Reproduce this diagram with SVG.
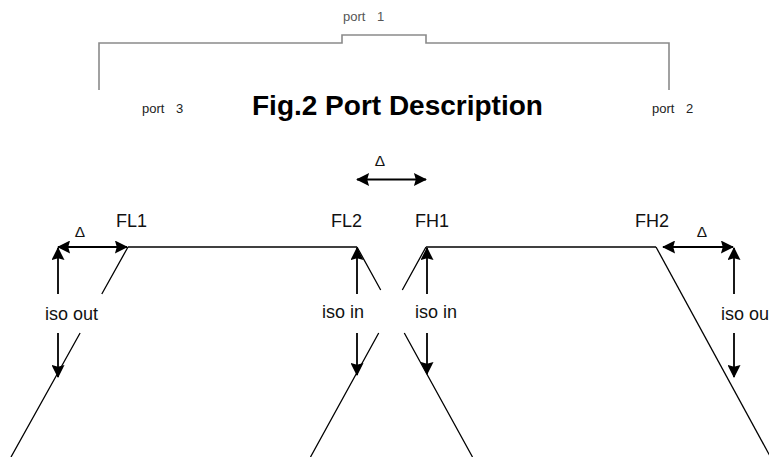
<svg xmlns="http://www.w3.org/2000/svg" width="769" height="457" viewBox="0 0 769 457">
<style>
.lbl{font-family:"Liberation Sans",Arial,sans-serif;font-size:18px;fill:#111}
.port{font-family:"Liberation Sans",Arial,sans-serif;font-size:13px;fill:#222;word-spacing:8px}
.delta{font-family:"Liberation Sans",Arial,sans-serif;font-size:15.5px;fill:#111;text-anchor:middle}
.title{font-family:"Liberation Sans",Arial,sans-serif;font-size:28px;font-weight:bold;fill:#000}
.ln{stroke:#000;stroke-width:1.5;fill:none}
.sl{stroke:#000;stroke-width:1.3;fill:none}
.ar{stroke:#000;stroke-width:1.8;fill:none;marker-end:url(#ah)}
.dar{stroke:#000;stroke-width:1.8;fill:none;marker-end:url(#ah);marker-start:url(#ah)}
.br{stroke:#8a8a8a;stroke-width:1.6;fill:none}
</style>
<defs>
<marker id="ah" viewBox="0 0 14 14" refX="13" refY="7" markerWidth="14" markerHeight="13" markerUnits="userSpaceOnUse" orient="auto-start-reverse">
<path d="M0,0 L14,7 L0,14 L2,7 z" fill="#000"/>
</marker>
</defs>
<rect width="769" height="457" fill="#fff"/>

<g id="bracket">
<path class="br" d="M99,90 V43 H342 V35 H426 V43 H669 V90"/>
<text x="343" y="21" class="port" style="fill:#555">port 1</text>
<text x="142" y="113" class="port">port 3</text>
<text x="652" y="113" class="port">port 2</text>
</g>

<g id="title">
<text x="252" y="115" class="title">Fig.2 Port Description</text>
</g>

<g id="lowpass">
<text x="116" y="227" class="lbl">FL1</text>
<text x="331" y="227" class="lbl">FL2</text>
<path class="ln" d="M128,247 H357"/>
<path class="sl" d="M128,247 L101.8,294 M80.1,333 L11,457"/>
<path class="sl" d="M357,247 L380.7,290 M404.3,333 L472.5,457"/>
</g>

<g id="highpass">
<text x="415" y="227" class="lbl">FH1</text>
<text x="635" y="227" class="lbl">FH2</text>
<path class="ln" d="M426,247 H656"/>
<path class="sl" d="M426,247 L402.3,290 M378.7,333 L310.5,457"/>
<path class="sl" d="M656,247 L770.5,457"/>
</g>

<g id="connectors">
<path class="dar" d="M357,179.5 H426"/>
<path class="dar" d="M58,247 H127"/>
<path class="dar" d="M663,247 H733"/>
<path class="ar" d="M58,294 V248"/>
<path class="ar" d="M58,333 V377"/>
<path class="ar" d="M357,294 V248"/>
<path class="ar" d="M357,333 V375"/>
<path class="ar" d="M427,294 V248"/>
<path class="ar" d="M427,333 V374"/>
<path class="ar" d="M734,294 V248"/>
<path class="ar" d="M734,333 V377"/>
</g>

<g id="labels">
<text x="380" y="166" class="delta">Δ</text>
<text x="80" y="237" class="delta">Δ</text>
<text x="702" y="237" class="delta">Δ</text>
<text x="45" y="320" class="lbl">iso out</text>
<text x="322" y="318" class="lbl">iso in</text>
<text x="415" y="318" class="lbl">iso in</text>
<text x="721" y="320" class="lbl">iso out</text>
</g>
</svg>
